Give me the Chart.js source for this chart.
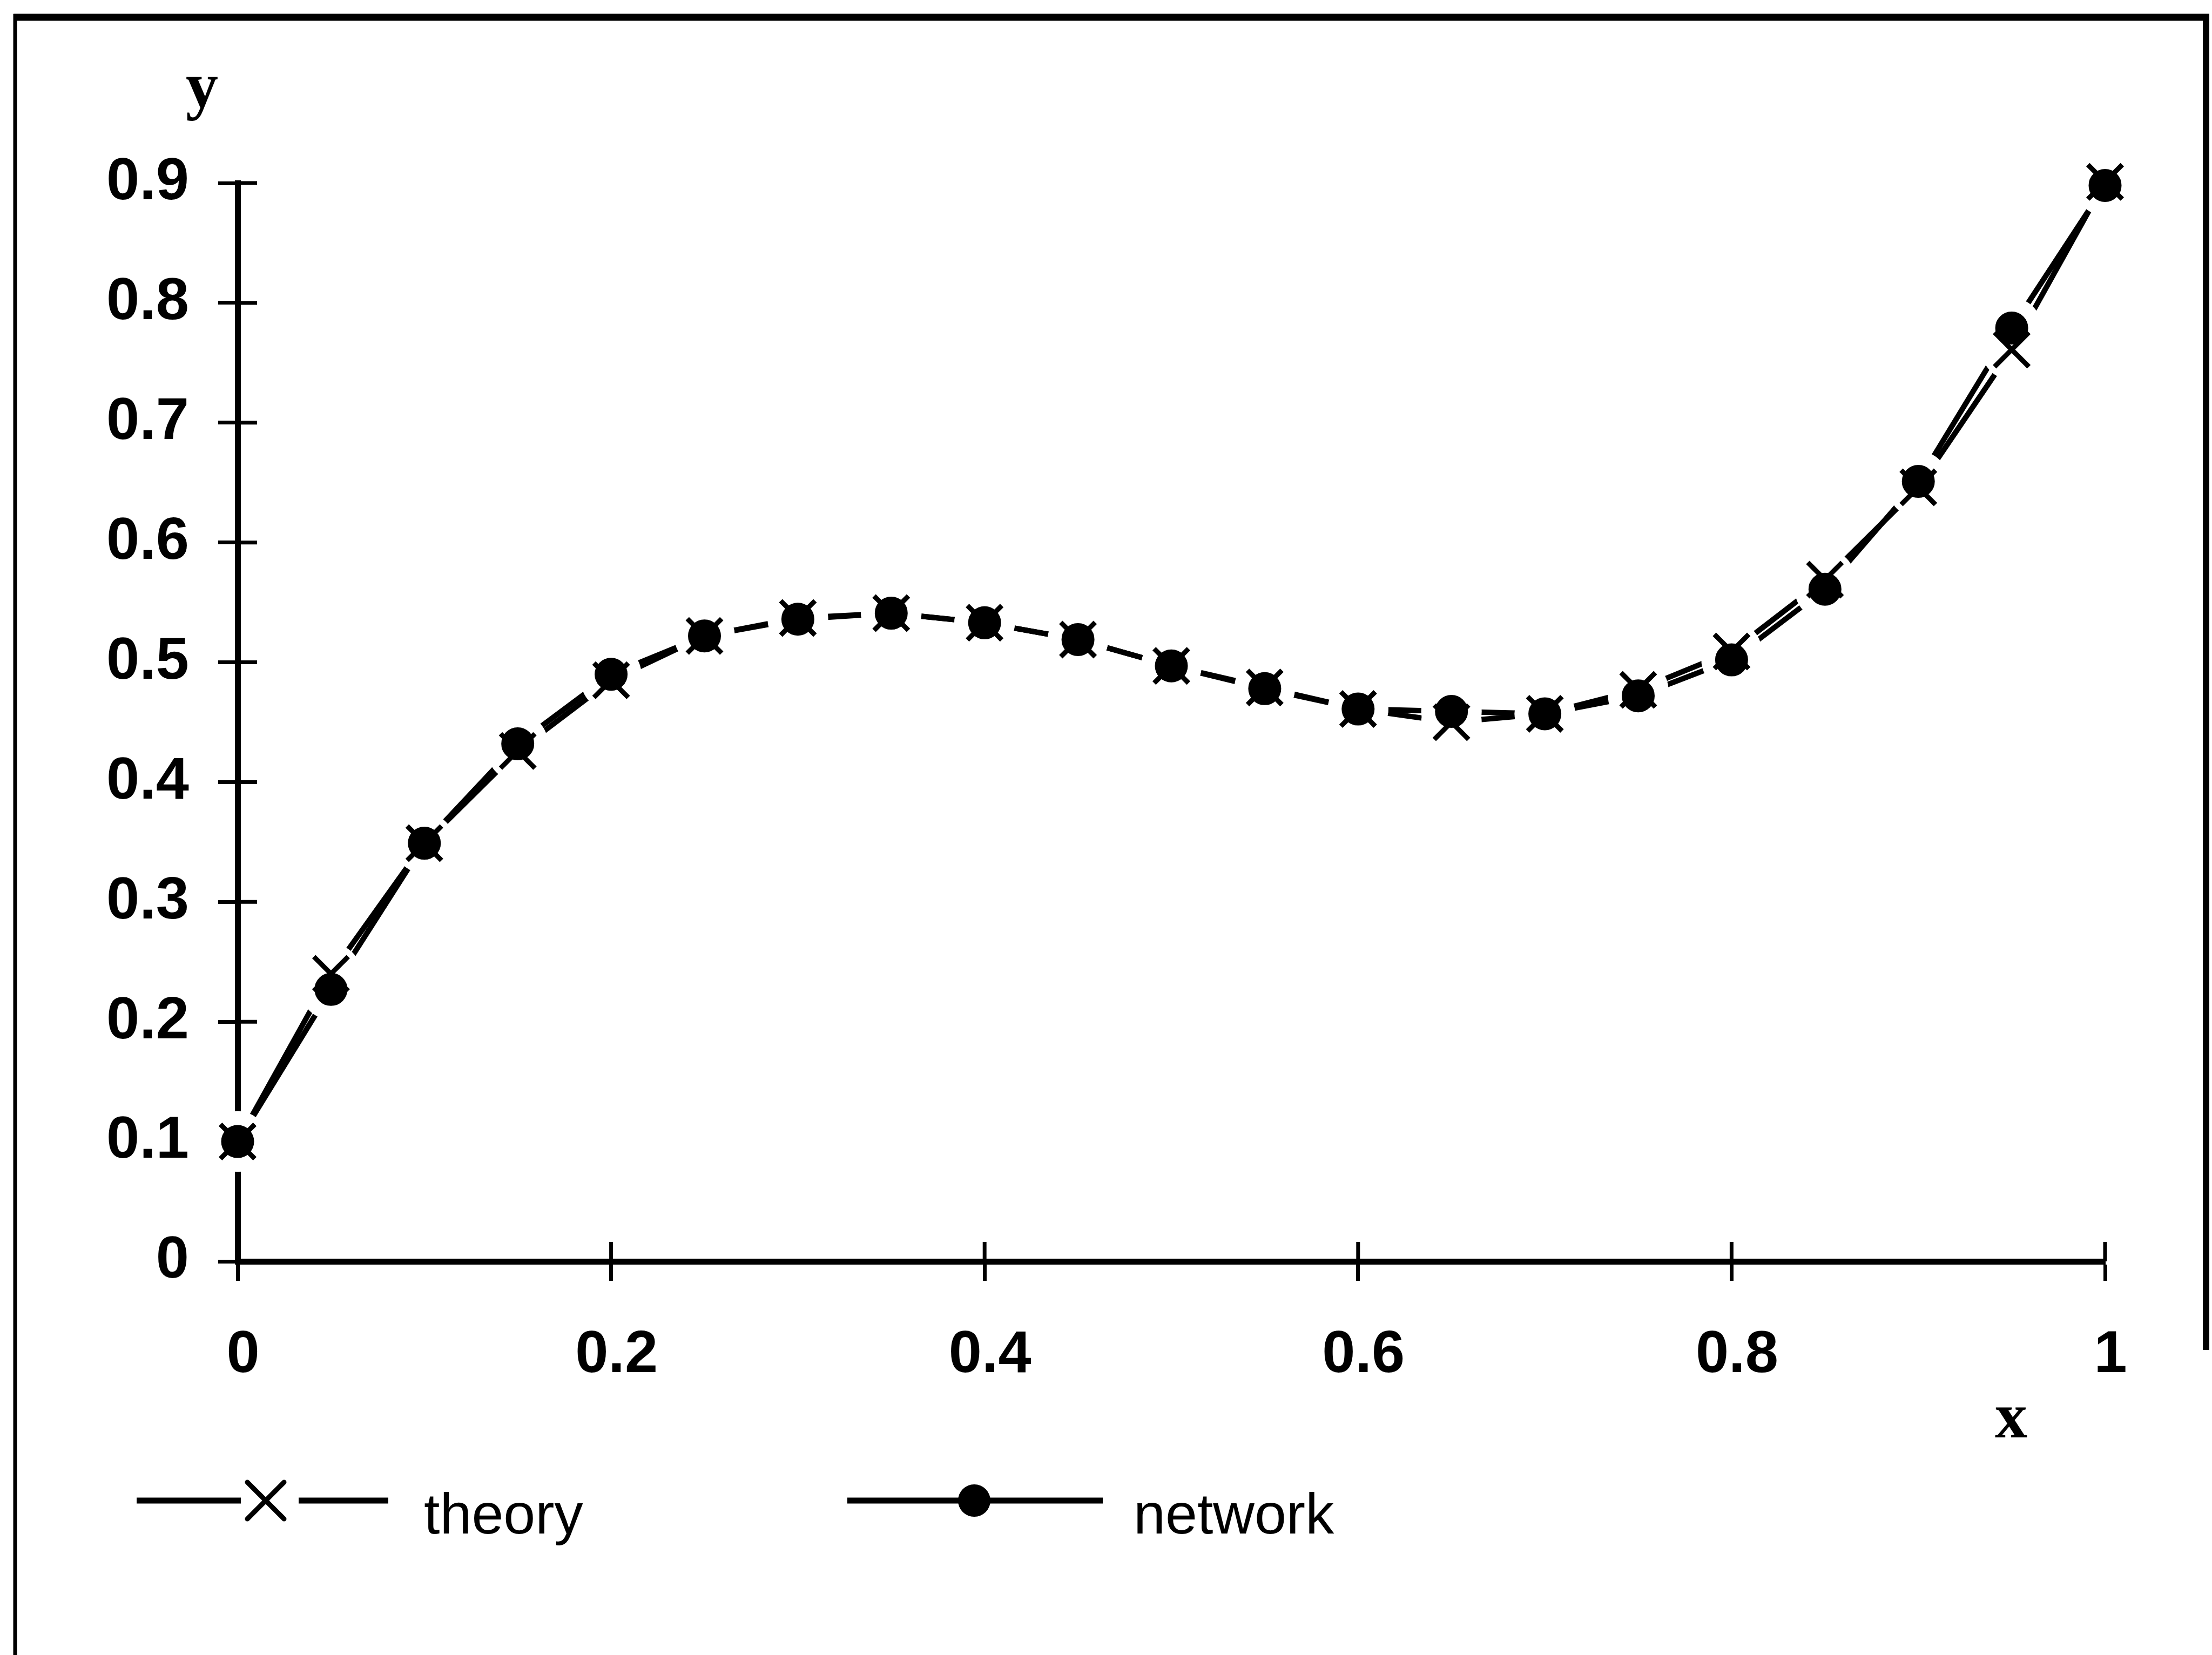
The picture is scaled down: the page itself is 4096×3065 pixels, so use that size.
<!DOCTYPE html>
<html>
<head>
<meta charset="utf-8">
<script src="https://cdn.jsdelivr.net/npm/chart.js@4.4.1/dist/chart.umd.min.js"></script>
<style>
html,body{margin:0;padding:0;background:#fff;overflow:hidden}
canvas{display:block}
</style>
</head>
<body>
<canvas id="c" width="4096" height="3065"></canvas>
<script>
// ---- data ----
const xValues = [0, 0.05, 0.1, 0.15, 0.2, 0.25, 0.3, 0.35, 0.4, 0.45, 0.5,
                 0.55, 0.6, 0.65, 0.7, 0.75, 0.8, 0.85, 0.9, 0.95, 1];
const theory  = [0.100, 0.240, 0.349, 0.426, 0.485, 0.522, 0.537, 0.541, 0.533, 0.519, 0.497,
                 0.479, 0.461, 0.450, 0.457, 0.477, 0.509, 0.569, 0.646, 0.761, 0.901];
const network = [0.100, 0.227, 0.349, 0.432, 0.490, 0.522, 0.536, 0.541, 0.533, 0.519, 0.497,
                 0.478, 0.461, 0.459, 0.457, 0.472, 0.502, 0.561, 0.651, 0.779, 0.898];
const xTicks = [0, 0.2, 0.4, 0.6, 0.8, 1];
const yTicks = [0, 0.1, 0.2, 0.3, 0.4, 0.5, 0.6, 0.7, 0.8, 0.9];
const seriesNames = ['theory', 'network'];
const xTitle = 'x';
const yTitle = 'y';

const SANS = '"Liberation Sans Narrow", "Liberation Sans", Arial, sans-serif';
const SERIF = '"Liberation Serif", "Times New Roman", serif';
const fmt = v => String(+(+v).toFixed(2));
const toPts = arr => xValues.map((x, i) => ({x: x, y: arr[i]}));

const TICK_LEN = 36, TICK_W = 7, AXIS_W = 11, GAP_R = 56;
const MARKER_SETS = [2, 3]; // theory markers, network markers

const innerTicks = {
  id: 'innerTicks',
  beforeDatasetsDraw(chart) {
    const {ctx, chartArea: a, scales: {x, y}} = chart;
    ctx.save();
    ctx.strokeStyle = '#000';
    ctx.lineWidth = TICK_W;
    xTicks.forEach(v => {
      const px = x.getPixelForValue(v);
      ctx.beginPath(); ctx.moveTo(px, a.bottom); ctx.lineTo(px, a.bottom - TICK_LEN); ctx.stroke();
    });
    yTicks.forEach(v => {
      const py = y.getPixelForValue(v);
      ctx.beginPath(); ctx.moveTo(a.left, py); ctx.lineTo(a.left + TICK_LEN, py); ctx.stroke();
    });
    ctx.restore();
  }
};

// white gaps around the markers (lines stop short of each marker, as in the original),
// then the library's own point elements are drawn again on top.
const markerGaps = {
  id: 'markerGaps',
  afterDatasetsDraw(chart) {
    const ctx = chart.ctx;
    ctx.save();
    ctx.fillStyle = '#fff';
    MARKER_SETS.forEach(di => {
      chart.getDatasetMeta(di).data.forEach(pt => {
        ctx.beginPath(); ctx.arc(pt.x, pt.y, GAP_R, 0, Math.PI * 2); ctx.fill();
      });
    });
    ctx.restore();
    MARKER_SETS.forEach(di => {
      chart.getDatasetMeta(di).data.forEach(pt => {
        ctx.save(); pt.draw(ctx, chart.chartArea); ctx.restore();
      });
    });
  }
};

const decorations = {
  id: 'decorations',
  afterDraw(chart) {
    const {ctx} = chart;
    ctx.save();
    ctx.fillStyle = '#000';
    ctx.strokeStyle = '#000';
    // frame
    ctx.lineCap = 'butt';
    ctx.lineWidth = 7;
    ctx.beginPath(); ctx.moveTo(28, 26); ctx.lineTo(28, 3065); ctx.stroke();
    ctx.lineWidth = 13;
    ctx.beginPath(); ctx.moveTo(25, 32); ctx.lineTo(4091, 32); ctx.stroke();
    ctx.lineWidth = 12;
    ctx.beginPath(); ctx.moveTo(4085, 26); ctx.lineTo(4085, 2500); ctx.stroke();

    // axis titles
    ctx.font = 'bold 120px ' + SERIF;
    ctx.textAlign = 'center';
    ctx.textBaseline = 'alphabetic';
    ctx.fillText(yTitle, 374, 198);
    ctx.fillText(xTitle, 3724, 2662);

    // legend
    const ly = 2779;
    ctx.lineWidth = 11;
    ctx.beginPath(); ctx.moveTo(253, ly); ctx.lineTo(446, ly); ctx.stroke();
    ctx.beginPath(); ctx.moveTo(553, ly); ctx.lineTo(719, ly); ctx.stroke();
    ctx.lineWidth = 9;
    ctx.lineCap = 'round';
    const cx = 492, d = 34;
    ctx.beginPath(); ctx.moveTo(cx - d, ly - d); ctx.lineTo(cx + d, ly + d); ctx.stroke();
    ctx.beginPath(); ctx.moveTo(cx - d, ly + d); ctx.lineTo(cx + d, ly - d); ctx.stroke();
    ctx.lineCap = 'butt';
    ctx.lineWidth = 11;
    ctx.beginPath(); ctx.moveTo(1569, ly); ctx.lineTo(2042, ly); ctx.stroke();
    ctx.beginPath(); ctx.arc(1804, ly, 30, 0, Math.PI * 2); ctx.fill();

    ctx.font = '106px ' + SANS;
    ctx.textAlign = 'left';
    ctx.fillText(seriesNames[0], 785, 2840);
    ctx.fillText(seriesNames[1], 2099, 2840);
    ctx.restore();
  }
};

const tickFont = {family: SANS, size: 110, weight: 'bold', lineHeight: 1.2};

new Chart(document.getElementById('c'), {
  type: 'scatter',
  data: {
    datasets: [
      {label: seriesNames[0] + ' line', data: toPts(theory), showLine: true, borderColor: '#000',
       borderWidth: 10, pointRadius: 0, tension: 0, order: 4, clip: false},
      {label: seriesNames[1] + ' line', data: toPts(network), showLine: true, borderColor: '#000',
       borderWidth: 10, pointRadius: 0, tension: 0, order: 3, clip: false},
      {label: seriesNames[0], data: toPts(theory), showLine: false, pointStyle: 'crossRot', pointRadius: 45,
       pointBorderColor: '#000', pointBackgroundColor: '#000', pointBorderWidth: 9, order: 2, clip: false},
      {label: seriesNames[1], data: toPts(network), showLine: false, pointStyle: 'circle', pointRadius: 29,
       pointBorderColor: '#000', pointBackgroundColor: '#000', pointBorderWidth: 3, order: 1, clip: false}
    ]
  },
  options: {
    responsive: false,
    devicePixelRatio: 1,
    animation: false,
    events: [],
    layout: {padding: {left: 40, right: 198, top: 339, bottom: 429}},
    plugins: {legend: {display: false}, tooltip: {enabled: false}},
    scales: {
      x: {
        type: 'linear', position: 'bottom', min: 0, max: 1,
        afterFit(s) { s.height = 300; },
        afterBuildTicks(s) { s.ticks = xTicks.map(v => ({value: v})); },
        border: {display: true, color: '#000', width: AXIS_W},
        grid: {display: true, drawOnChartArea: false, drawTicks: true, tickLength: TICK_LEN,
               tickWidth: TICK_W, tickColor: '#000', color: '#000'},
        ticks: {padding: 73, labelOffset: 10, color: '#000', font: tickFont, maxRotation: 0, autoSkip: false,
                callback: v => fmt(v)}
      },
      y: {
        type: 'linear', position: 'left', min: 0, max: 0.9,
        afterFit(s) { s.width = 400; },
        afterBuildTicks(s) { s.ticks = yTicks.map(v => ({value: v})); },
        border: {display: true, color: '#000', width: AXIS_W},
        grid: {display: true, drawOnChartArea: false, drawTicks: true, tickLength: TICK_LEN,
               tickWidth: TICK_W, tickColor: '#000', color: '#000'},
        ticks: {padding: 54, color: '#000', font: tickFont, autoSkip: false,
                callback: v => fmt(v)}
      }
    }
  },
  plugins: [innerTicks, markerGaps, decorations]
});
</script>
</body>
</html>
